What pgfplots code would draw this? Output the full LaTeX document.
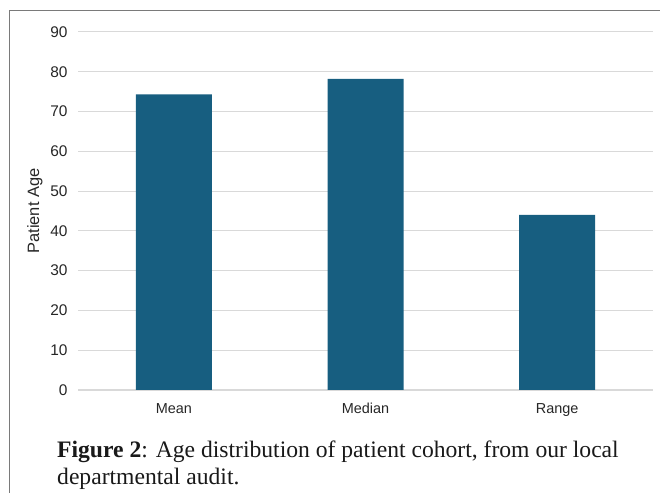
\documentclass[border=0pt]{standalone}
\usepackage{fontspec}
\setmainfont{Liberation Sans}
\newfontfamily\capfont{Liberation Serif}
\usepackage{pgfplots}
\pgfplotsset{compat=1.18}
\definecolor{barblue}{HTML}{175E80}
\definecolor{gridgray}{HTML}{D9D9D9}
\definecolor{framegray}{HTML}{7A7A7A}
\begin{document}
\begin{tikzpicture}[x=1bp,y=1bp]
\path[use as bounding box] (0,0) rectangle (660,493);
\draw[framegray, line width=1.6bp] (9.5,-5) -- (9.5,482.5) -- (665,482.5);
\begin{axis}[
  at={(78bp,103bp)}, anchor=south west,
  width=575bp, height=358bp, scale only axis,
  xmin=-0.5, xmax=2.5, ymin=0, ymax=90,
  ytick={0,10,...,90},
  xtick={0,1,2}, xticklabels={Mean,Median,Range},
  axis line style={draw=none},
  axis x line*=bottom,
  major tick length=0pt,
  ymajorgrids, grid style={gridgray, line width=1bp},
  extra y ticks={0}, extra y tick style={grid style={gridgray,line width=1.2bp}},
  extra y tick labels={},
  /pgf/number format/assume math mode=true,
  tick label style={text=black!85},
  yticklabel style={font=\fontsize{15.5}{18}\selectfont, xshift=-7bp},
  xticklabel style={font=\fontsize{14.5}{17}\selectfont, yshift=-10bp},
  ylabel={Patient Age},
  ylabel style={at={(axis description cs:-0.0748,0.5)}, anchor=center, font=\fontsize{16.5}{19}\selectfont, text=black!85},
]
\addplot[ybar, bar width=76bp, fill=barblue, draw=none] coordinates {(0,74.3) (1,78.2) (2,44.0)};
\end{axis}
\node[anchor=base west, font=\capfont\fontsize{23.7}{28}\selectfont, text=black!90, inner sep=0] at (57,35) {\textbf{Figure 2}: Age distribution of patient cohort, from our local};
\node[anchor=base west, font=\capfont\fontsize{23.7}{28}\selectfont, text=black!90, inner sep=0] at (57,8) {departmental audit.};
\end{tikzpicture}
\end{document}
